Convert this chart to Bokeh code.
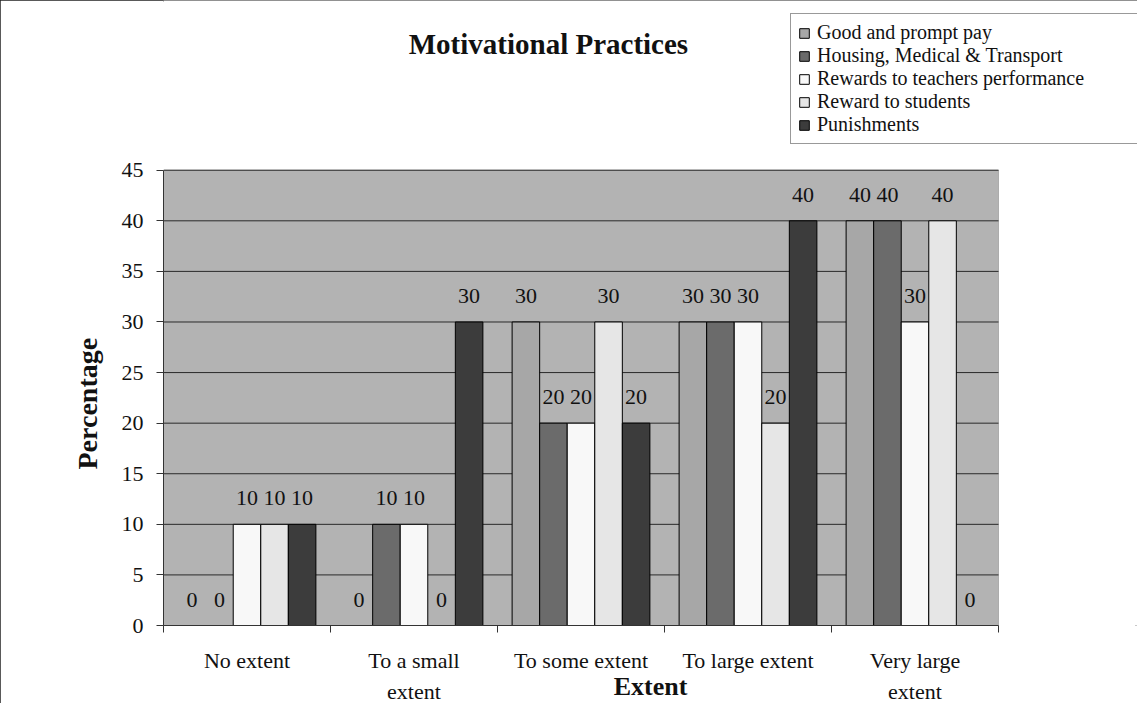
from bokeh.plotting import figure
from bokeh.models import (ColumnDataSource, FixedTicker, Legend, LegendItem, Label,
                          BoxAnnotation, Title)
from bokeh.core.properties import value
from bokeh.embed import file_html
from bokeh.resources import INLINE

categories = ["No extent", "To a small\nextent", "To some extent", "To large extent", "Very large\nextent"]
series_names = ["Good and prompt pay", "Housing, Medical & Transport",
                "Rewards to teachers performance", "Reward to students", "Punishments"]
good_pay = [0, 0, 30, 30, 40]
housing = [0, 10, 20, 30, 40]
rewards_teachers = [10, 10, 20, 30, 30]
reward_students = [10, 0, 30, 20, 40]
punishments = [10, 30, 20, 40, 0]
series_values = [good_pay, housing, rewards_teachers, reward_students, punishments]
y_ticks = [0, 5, 10, 15, 20, 25, 30, 35, 40, 45]
colors = ["#a7a7a7", "#6b6b6b", "#f8f8f8", "#e6e6e6", "#3c3c3c"]

FONT = "Liberation Serif"
TXT = "#111111"

# layout (pixels)
W, H = 1137, 703
LEFT, BOTTOM_PX = 163, 626          # frame left edge / x-axis position
AREA_W, AREA_H = 835, 456           # size of the grey plotting area
n_cat = len(categories)
y_max = y_ticks[-1]
x_end = n_cat * (W - LEFT) / AREA_W
y_end = y_max * BOTTOM_PX / AREA_H

p = figure(width=W, height=H, output_backend="svg", toolbar_location=None,
           x_range=(0, x_end), y_range=(0, y_end),
           min_border_left=LEFT, min_border_top=0, min_border_right=0,
           min_border_bottom=H - BOTTOM_PX)
p.background_fill_color = "white"
p.border_fill_color = "white"
p.outline_line_color = None
p.xgrid.visible = False
p.ygrid.visible = False

# grey plotting area
p.add_layout(BoxAnnotation(left=0, right=n_cat, bottom=0, top=y_max,
                           fill_color="#b3b3b3", fill_alpha=1,
                           line_color="#444444", line_width=1, level="image"))
# horizontal grid lines
p.segment(x0=[0] * (len(y_ticks) - 1), x1=[n_cat] * (len(y_ticks) - 1),
          y0=y_ticks[1:], y1=y_ticks[1:], line_color="#2a2a2a", line_width=1,
          level="underlay")

bw = 0.165
legend_items = []
for j, (name, vals, col) in enumerate(zip(series_names, series_values, colors)):
    xs = [i + 0.5 + (j - 2) * bw for i in range(n_cat)]
    src = ColumnDataSource(dict(x=xs, top=vals, lab=[str(v) for v in vals]))
    r = p.vbar(x="x", top="top", width=bw, source=src, fill_color=col,
               line_color="black", line_width=1)
    p.text(x="x", y="top", text="lab", source=src, text_align="center",
           text_baseline="middle", y_offset=-26, text_font=value(FONT),
           text_font_size="22px", text_color=TXT)
    legend_items.append(LegendItem(label=name, renderers=[r]))

# y axis
p.yaxis.bounds = (0, y_max)
p.yaxis.ticker = FixedTicker(ticks=y_ticks, minor_ticks=[])
p.yaxis.major_label_text_font = FONT
p.yaxis.major_label_text_font_size = "22px"
p.yaxis.major_label_text_color = TXT
p.yaxis.major_tick_out = 7
p.yaxis.major_tick_in = 0
p.yaxis.major_tick_line_color = "#333333"
p.yaxis.axis_line_color = "#333333"
p.yaxis.major_label_standoff = 13

ytitle = Title(text="Percentage", align="left", offset=156, vertical_align="middle",
               standoff=30, text_font=FONT, text_font_style="bold",
               text_font_size="28px", text_color=TXT)
p.add_layout(ytitle, "left")

# x axis
centers = [i + 0.5 for i in range(n_cat)]
p.xaxis.bounds = (0, n_cat)
p.xaxis.ticker = FixedTicker(ticks=centers, minor_ticks=list(range(n_cat + 1)))
p.xaxis.major_label_overrides = {c: lab for c, lab in zip(centers, categories)}
p.xaxis.major_tick_line_color = None
p.xaxis.major_tick_out = 0
p.xaxis.major_tick_in = 0
p.xaxis.minor_tick_out = 7
p.xaxis.minor_tick_in = 0
p.xaxis.minor_tick_line_color = "#333333"
p.xaxis.axis_line_color = "#333333"
p.xaxis.major_label_text_font = FONT
p.xaxis.major_label_text_font_size = "22px"
p.xaxis.major_label_text_line_height = 1.25
p.xaxis.major_label_text_color = TXT
p.xaxis.major_label_standoff = 15
p.xaxis.axis_label = "Extent"
p.xaxis.axis_label_text_font = FONT
p.xaxis.axis_label_text_font_style = "bold"
p.xaxis.axis_label_text_font_size = "26px"
p.xaxis.axis_label_text_color = TXT
p.xaxis.axis_label_standoff = -35

title = Label(x=2.305, y=57.5, text="Motivational Practices", text_font=FONT,
              text_font_style="bold", text_font_size="29px", text_align="center",
              text_baseline="middle", text_color=TXT)
p.add_layout(title)

legend = Legend(items=legend_items, location=(627, 481))
legend.label_text_font = FONT
legend.label_text_font_size = "20px"
legend.label_text_color = TXT
legend.glyph_width = 12
legend.glyph_height = 12
legend.label_height = 22
legend.label_width = 314
legend.spacing = 0
legend.padding = 7
legend.margin = 0
legend.label_standoff = 7
legend.border_line_color = "#333333"
legend.border_line_width = 1
legend.background_fill_color = "white"
legend.background_fill_alpha = 1
p.add_layout(legend, "center")

p.styles = {"outline": "2px solid #222222", "outline-offset": "-2px"}

open("out.html", "w").write(file_html(p, INLINE))
